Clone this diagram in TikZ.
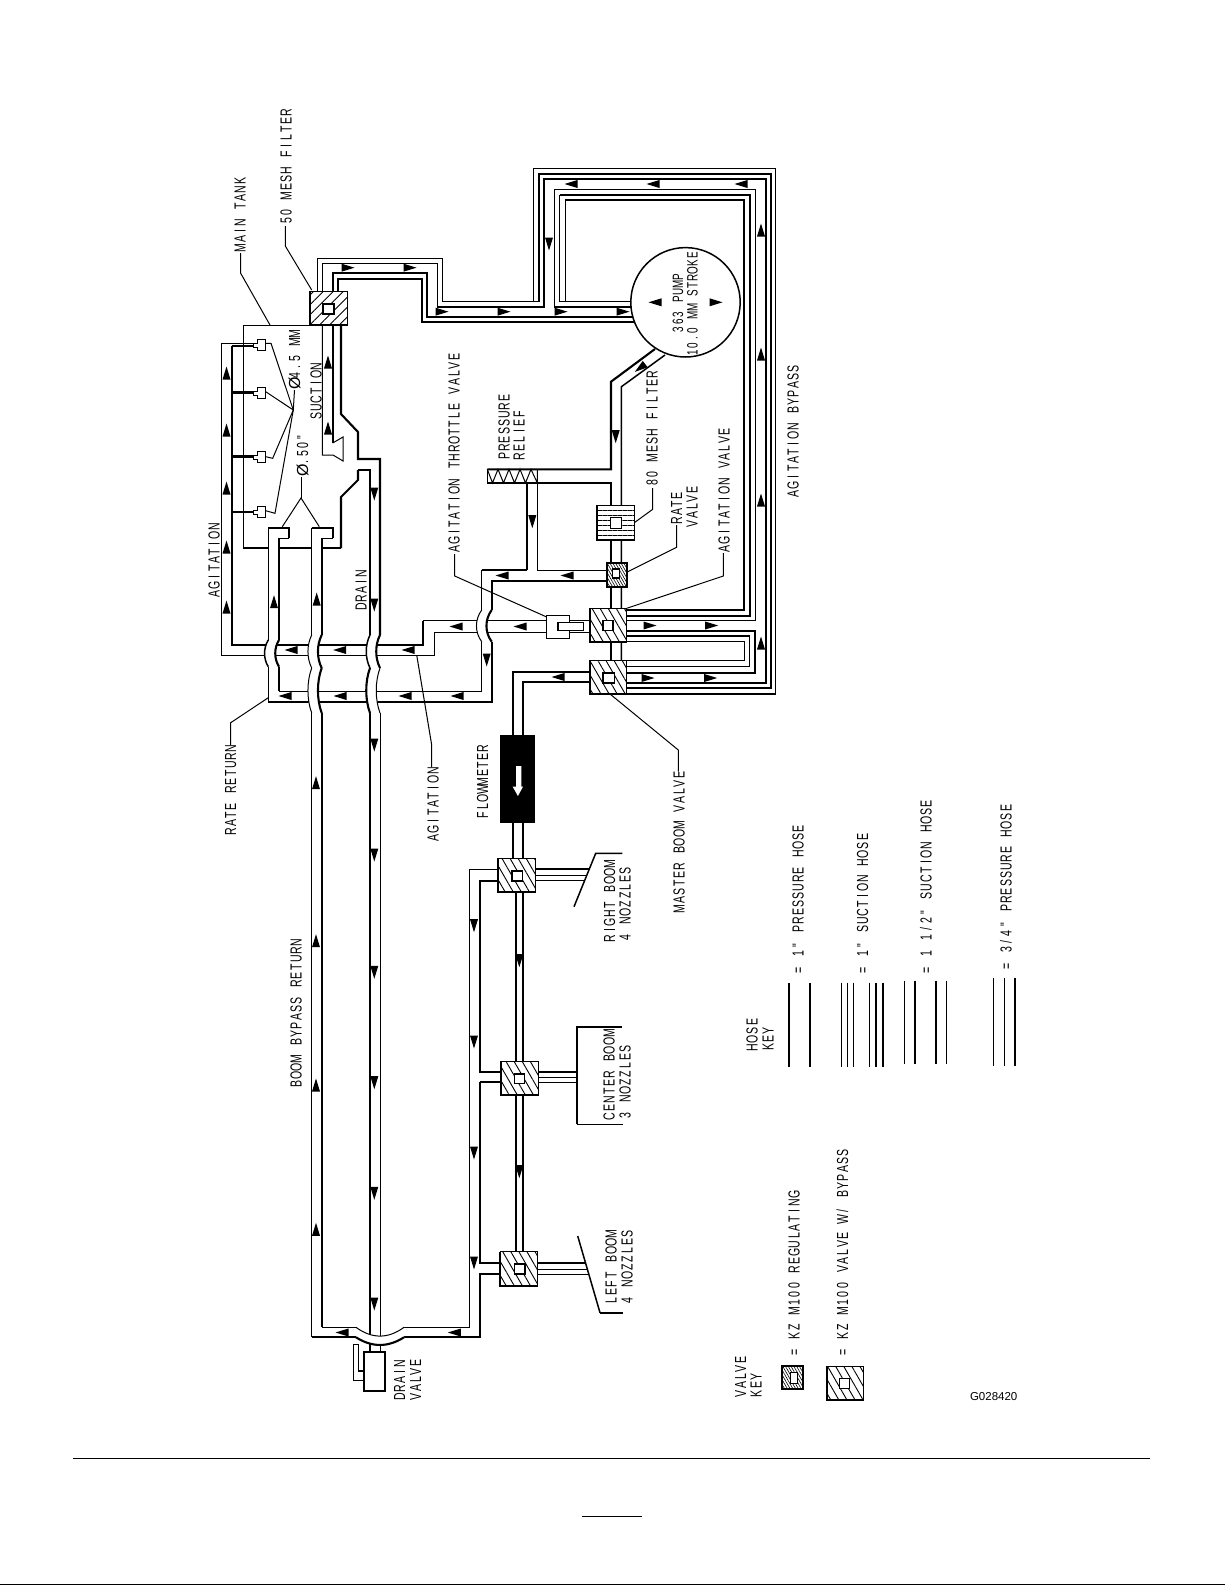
\documentclass[tikz,border=0pt]{standalone}
\usepackage{fontspec}
\usetikzlibrary{patterns.meta}
\setmainfont{Liberation Sans}
\newfontfamily\lblfont[FakeStretch=0.66]{Liberation Sans}
\def\mw{8.33pt}
\def\bigO{\rmfamily Ø}
\def\monoloop#1{\ifx#1\relax\else\makebox[\mw]{#1}\expandafter\monoloop\fi}
\newcommand\mono[1]{\monoloop#1\relax}
\newcommand\flowarr[3]{\fill[shift={(#1,#2)},rotate=#3] (6.5,0)--(-6.5,4)--(-6.5,-4)--cycle;}
\newcommand\vlv[9][hatchA]{%
  \fill[white] (#2,#3) rectangle (#4,#5);
  \path[#1] (#2,#3) rectangle (#4,#5);
  \draw[tn] (#2,#3) rectangle (#4,#5);
  \draw[tk] (#2,#3)--(#2,#5)--(#4,#5);
  \draw[md,fill=white] (#6,#7) rectangle (#8,#9);}
\newcommand\nzl[1]{\draw[tn,fill=white] (253.3,#1-2)--(257.3,#1-2)--(257.3,#1-5.5)--(265.7,#1-5.5)--(265.7,#1+5.5)--(257.3,#1+5.5)--(257.3,#1+2)--(253.3,#1+2)--cycle;}
% vertical hose bending aside where it passes over a horizontal hose
\def\wigoff{5}
\newcommand\wig[6]{%
  \fill[white] (#1,#3) .. controls (#1-\wigoff,#3+0.3*#4-0.3*#3) and (#1-\wigoff,#4-0.3*#4+0.3*#3) .. (#1,#4) -- (#2,#4) .. controls (#2-\wigoff,#4-0.3*#4+0.3*#3) and (#2-\wigoff,#3+0.3*#4-0.3*#3) .. (#2,#3) -- cycle;
  \draw[#5] (#1,#3) .. controls (#1-\wigoff,#3+0.3*#4-0.3*#3) and (#1-\wigoff,#4-0.3*#4+0.3*#3) .. (#1,#4);
  \draw[#6] (#2,#3) .. controls (#2-\wigoff,#3+0.3*#4-0.3*#3) and (#2-\wigoff,#4-0.3*#4+0.3*#3) .. (#2,#4);}
\tikzset{
  tk/.style={line width=2.1pt},
  md/.style={line width=1.5pt},
  tn/.style={line width=1pt},
  hatchA/.style={pattern={Lines[angle=-60,distance=7pt,line width=.9pt]}},
  hatchB/.style={pattern={Lines[angle=45,distance=7pt,line width=.9pt]}},
  hatchC/.style={pattern={Lines[angle=-60,distance=2.4pt,line width=.6pt]}},
  hatchD/.style={pattern={Lines[angle=0,distance=5pt,line width=.9pt]}},
  lbl/.style={rotate=90,anchor=west,inner sep=0pt,text height=11pt,text depth=0pt,
    font=\fontsize{16}{17}\lblfont},
  lbls/.style={rotate=90,anchor=center,inner sep=0pt,text height=10pt,text depth=0pt,
    font=\fontsize{15}{16}\lblfont},
}
\begin{document}
\begin{tikzpicture}[x=1pt,y=-1pt,line join=miter]
\useasboundingbox (0,0) rectangle (1225,1585);
% ---- page rules
\draw[md] (73,1458.3)--(1150,1458.3);
\draw[md] (582,1516.3)--(642,1516.3);
\draw[line width=1.5pt] (0,1584.3)--(1225,1584.3);
% ---- suction from filter to pump, and pump loops
\draw[tn] (317.3,291)--(317.3,258.3)--(442.3,258.3)--(442.3,301.7)--(539,301.7);
\draw[tn] (322.3,291)--(322.3,263.3)--(437,263.3)--(437,306.7);
\draw[tk] (437,306.7)--(544,306.7)--(544,179)--(765.7,179)--(765.7,683.3)--(626,683.3);
\draw[tk] (539,301.7)--(539,173.7)--(770.7,173.7)--(770.7,688.3)--(626,688.3);
\draw[tn] (533,301.7)--(533,168.3)--(775.7,168.3)--(775.7,694);
\draw[tk] (775.7,694)--(626,694);
\draw[tk] (332.7,291)--(332.7,273.3)--(426.7,273.3)--(426.7,316.7)--(636,316.7);
\draw[tk] (338.3,291)--(338.3,278.7)--(421.7,278.7)--(421.7,322)--(638,322);
\draw[tn] (554.3,306.7)--(554.3,189.3)--(755,189.3)--(755,620.7)--(626,620.7);
\draw[tk] (554.3,306.7)--(634,306.7);
\draw[md] (634,301.7)--(559.7,301.7)--(559.7,194.7);
\draw[tk] (559.7,194.7)--(749.7,194.7)--(749.7,615.7)--(626,615.7);
\draw[tn] (565,301.7)--(565,200);
\draw[tk] (565,200)--(744.3,200)--(744.3,610)--(626,610);
% loop between agitation valve and master boom valve
\draw[tk] (626,631)--(755,631)--(755,672.7)--(626,672.7);
\draw[md] (626,636)--(749.7,636)--(749.7,666.7)--(626,666.7);
\draw[tn] (626,641.7)--(744.3,641.7)--(744.3,660.7)--(626,660.7);
% ---- pressure side from pump
\draw[tk] (487.3,469.3)--(611,469.3)--(611,381.7)--(655,349);
\draw[md] (621.4,662)--(621.4,386.7)--(665,355);
\draw[tk] (487.3,482.9)--(611,482.9)--(611,662);
\draw[tn] (487.3,469.3)--(487.3,482.9);
\draw[tn] (487.3,469.3)--(492.5,482.9)--(498,469.3)--(503.5,482.9)--(509,469.3)--(514.5,482.9)--(520,469.3)--(525.5,482.9)--(531,469.3)--(537.3,482.9)--(537.3,469.3);
\draw[tn] (537.3,482.9)--(537.3,570)--(606,570);
% ---- agitation line
\draw[tk] (243,548)--(268.3,548) (279,548)--(311.7,548) (321.7,548)--(341,548);
\draw[tn] (310,325)--(243,325)--(243,548);
\draw[tk] (231.7,346)--(231.7,645)--(423,645)--(423,620.7);
\draw[md] (423,620.7)--(590,620.7);
\draw[tn] (253,343.3)--(221.3,343.3)--(221.3,655)--(434.3,655)--(434.3,632.3)--(590,632.3);
\draw[tk] (231.7,346)--(253,346) (231.7,392.5)--(253,392.5) (231.7,456.5)--(253,456.5) (231.7,511.7)--(253,511.7);
% ---- rate return
\draw[tk] (606,581)--(491.7,581)--(491.7,610);
\draw[tk] (491.7,641.7)--(491.7,701.7)--(268.3,701.7);
\draw[md] (268.3,701.7)--(268.3,666.7);
\draw[md] (268.3,640)--(268.3,527.7);
\draw[tk] (268.3,527.7)--(289.3,527.7)--(289.3,538.3);
\draw[md] (289.3,538.3)--(279,538.3);
\draw[tk] (279,538.3)--(279,640);
\draw[tk] (279,666.7)--(279,691);
\draw[tn] (279,691)--(481.7,691)--(481.7,641.7);
\draw[tn] (481.7,610)--(481.7,570);
\draw[md] (481.7,570)--(527.2,570);
\draw[tk] (527.2,570)--(527.2,483);
% ---- boom bypass return
\draw[tn] (311.7,527.7)--(311.7,635) (311.7,713)--(311.7,1337.3);
\draw[tk] (311.7,527.7)--(332.7,527.7)--(332.7,538.3);
\draw[md] (332.7,538.3)--(321.7,538.3);
\draw[tk] (321.7,538.3)--(321.7,635) (322,713)--(322,1327.3);
\draw[tn] (322,1327.3)--(356,1327.3);
\draw[tn] (404,1327.3)--(469.3,1327.3)--(469.3,869.3)--(498,869.3);
\draw[tk] (311.7,1337.3)--(356,1337.3);
\draw[tk] (404,1337.3)--(480,1337.3)--(480,1274)--(500,1274);
\draw[tk] (500,1263.3)--(480,1263.3)--(480,1082.3);
\draw[tk] (480,1082.3)--(501,1082.3);
\draw[tk] (501,1071.7)--(480,1071.7)--(480,880.7)--(498,880.7);
% ---- drain
\draw[tk] (341,325)--(341,414)--(358,432)--(358,459)--(380,459)--(380,635);
\draw[tk] (341,548)--(341,497)--(358,480)--(358,470);
\draw[md] (358,470)--(370,470)--(370,635);
\draw[tk] (370,713)--(370,1352);
\draw[tn] (380.7,713)--(380.7,1352);
% ---- bridges over the horizontal hoses
\begingroup\def\wigoff{7}\wig{481.7}{491.7}{610}{641.7}{tn}{tk}\endgroup
\wig{268.3}{279}{640}{666.7}{md}{tk}
\wig{311.7}{321.7}{635}{668}{tn}{tk}
\wig{370}{380}{635}{668}{md}{tk}
\wig{311.7}{321.7}{668}{713}{tn}{tk}
\wig{370}{380}{668}{713}{tk}{tn}
% ---- bridge at drain valve
\fill[white] (356,1327.3) .. controls (372,1339) and (388,1339) .. (404,1327.3) -- (404,1337.3) .. controls (388,1347.5) and (372,1347.5) .. (356,1337.3) -- cycle;
\draw[tn] (356,1327.3) .. controls (372,1339) and (388,1339) .. (404,1327.3);
\draw[tk] (356,1337.3) .. controls (372,1347.5) and (388,1347.5) .. (404,1337.3);
% ---- drain valve
\draw[md] (358.3,1344)--(358.3,1371)--(364,1371);
\draw[tn] (358.3,1344)--(353.3,1344)--(353.3,1380)--(364,1380);
\draw[tk,fill=white] (364,1351.7) rectangle (385.3,1391);
% ---- suction to tank
\draw[tn] (322.3,325)--(322.3,455)--(333,455)--(343,461)--(343,437)--(332.7,443);
\draw[tk] (332.7,443)--(332.7,325);
% ---- pump
\draw[md,fill=white] (685.5,302.3) circle (54.7);
\flowarr{655}{302.3}{180}
\flowarr{716}{302.3}{0}
% ---- flowmeter and boom feed
\draw[tk] (512.7,858)--(512.7,671.7)--(590,671.7);
\draw[tk] (522.7,858)--(522.7,681.7)--(590,681.7);
\draw[tk] (515.7,892)--(515.7,1252) (522.9,892)--(522.9,1252);
\fill (500,735) rectangle (535,822.7);
\fill[white] (516,766)--(521.3,766)--(521.3,786.7)--(523,786.7)--(517.9,796)--(512.7,786.7)--(516,786.7)--cycle;
% ---- boom outlets
\draw[tk] (535,869.3)--(589,869.3);
\draw[tn] (535,875)--(586.9,875) (535,880.5)--(584.6,880.5);
\draw[tk] (537,1071.7)--(576.7,1071.7);
\draw[tn] (537,1077.3)--(576.7,1077.3) (537,1082.3)--(576.7,1082.3);
\draw[tk] (537,1263.3)--(585.6,1263.3);
\draw[tn] (537,1269)--(587.3,1269) (537,1274)--(588.8,1274);
\draw[md] (622.3,853.3)--(595.7,853.3)--(574,906.7);
\draw[tk] (621.7,1026.7)--(576.7,1026.7)--(576.7,1124.3);
\draw[md] (576.7,1124.3)--(623.3,1124.3);
\draw[md] (577.7,1236)--(600,1312.7);
\draw[tk] (600,1312.7)--(622.7,1312.7);
% ---- valves
\vlv[hatchB]{310}{291}{347}{325}{323}{304}{334}{314}
\vlv[hatchD]{597}{505}{634}{540}{610.7}{517.7}{621.7}{528.3}
\vlv[hatchC]{606.7}{562.7}{626.7}{586.7}{612.7}{569}{619.3}{578}
\draw[tk] (606.7,562.7) rectangle (626.7,586.7);
\vlv{590}{608.3}{626.7}{641.7}{603}{620.7}{613}{630.7}
\vlv{590}{660}{626.7}{694}{603}{673}{614.7}{683}
\vlv{498.3}{858.3}{535.7}{892.3}{512}{871}{522.7}{881}
\vlv{500.7}{1061.7}{538}{1095}{514.3}{1074}{524.3}{1083.3}
\vlv{500}{1251.7}{537.3}{1286}{514.3}{1264}{525}{1274}
% throttle valve
\draw[md,fill=white] (546.7,615.7) rectangle (569.3,638.3);
\draw[md,fill=white] (558,622.7) rectangle (583.3,630.7);
% nozzles
\nzl{345}\nzl{393.3}\nzl{457}\nzl{512}
% ---- flow arrows
\foreach \ax/\ay in {348/267.7,410/267.7,442/311.7,504/311.7,561/311.7,623/311.7}{\flowarr{\ax}{\ay}{0}}
\foreach \ax/\ay in {650/625.5,711.7/625.5,648/678,710.7/678}{\flowarr{\ax}{\ay}{0}}
\foreach \ax/\ay in {571/184,653/184,741/184,558/677,502/575.5,567/575.5,456/626.5,520/626.5,291/650,339.6/650,408/650,285/696,340/696,405/696,457/696,342/1332.5,454.3/1332.5}{\flowarr{\ax}{\ay}{180}}
\foreach \ax/\ay in {761/230,761/354,761/500,761/643,226.5/373,226.5/430,226.5/488,226.5/547,226.5/607,328/362,328/428,274/601.7,316.7/599,316/782.7,316/940.7,316/1085,316/1229.3}{\flowarr{\ax}{\ay}{90}}
\foreach \ax/\ay in {549/244,615.7/436.7,532.3/521.7,486.7/660,374.3/494,374.3/605,374.3/745,374.3/855,374.3/972.3,374.3/1082.7,374.3/1193.3,374.3/1304,474/925.7,474/1042,474/1153,474/1263,519.3/960.7,519.3/1171.7}{\flowarr{\ax}{\ay}{-90}}
\flowarr{640}{368}{217}
% ---- leaders
\draw[tn] (240.7,253)--(240.7,273.3)--(270,325);
\draw[tn] (285.3,226)--(285.3,246)--(311.7,290);
\draw[tn] (294.5,390)--(293.3,410);
\draw[tn] (265.7,343.3)--(271,343.3)--(293.3,410);
\draw[tn] (265.7,391.7)--(293.3,410);
\draw[tn] (265.7,456.7)--(272.7,458.3)--(293.3,410);
\draw[tn] (265.7,510.7)--(275,513.3)--(293.3,410);
\draw[tn] (282.3,526.7)--(301,498)--(319.3,526.7);
\draw[tn] (301,498)--(301,477);
\draw[tn] (268.3,697.7)--(230.7,722.7)--(230.7,745);
\draw[tn] (416.7,655)--(431.7,745)--(431.7,767);
\draw[tn] (454.7,554)--(454.7,576)--(546.7,617);
\draw[tn] (652.7,488)--(652.7,509.3)--(634.3,522.7);
\draw[tn] (676.7,525)--(676.7,547.3)--(626.7,572.3);
\draw[tn] (723.3,553)--(723.3,576)--(626.7,608.3);
\draw[tn] (610,694)--(678.3,750)--(678.3,771.7);
% ---- labels
\node[lbl] (l50) at (286,225) {\mono{50~MESH~FILTER}};
\node[lbl] (lmt) at (240,252) {\mono{MAIN~TANK}};
\node[lbl] (ld45) at (294.7,388) {\mono{\bigO4.5~MM}};
\node[lbl] (lsuc) at (316,420.7) {\mono{SUCTION}};
\node[lbl] (ld50) at (302.5,475) {\mono{\bigO.50"}};
\node[lbl] (lag1) at (214,598) {\mono{AGITATION}};
\node[lbl] (ldr) at (361,611) {\mono{DRAIN}};
\node[lbl] (lrr) at (230.5,836) {\mono{RATE~RETURN}};
\node[lbl] (lag2) at (433,842) {\mono{AGITATION}};
\node[lbl] (latv) at (454,553.3) {\mono{AGITATION~THROTTLE~VALVE}};
\node[lbl] (lpr1) at (504,460.7) {\mono{PRESSURE}};
\node[lbl] (lpr2) at (519,460.7) {\mono{RELIEF}};
\node[lbl] (l80) at (652,487) {\mono{80~MESH~FILTER}};
\node[lbl] (lrv1) at (676.7,525) {\mono{RATE}};
\node[lbl] (lrv2) at (692,528) {\mono{VALVE}};
\node[lbl] (lav) at (724,553) {\mono{AGITATION~VALVE}};
\node[lbl] (lab) at (793,498) {\mono{AGITATION~BYPASS}};
\node[lbl] (lfm) at (482.5,819.3) {\mono{FLOWMETER}};
\node[lbl] (lmb) at (679,913) {\mono{MASTER~BOOM~VALVE}};
\node[lbl] (lbbr) at (296,1088.3) {\mono{BOOM~BYPASS~RETURN}};
\node[lbl] (lrb1) at (609.5,943) {\mono{RIGHT~BOOM}};
\node[lbl] (lrb2) at (625,941.7) {\mono{4~NOZZLES}};
\node[lbl] (lcb1) at (609,1121) {\mono{CENTER~BOOM}};
\node[lbl] (lcb2) at (625,1120) {\mono{3~NOZZLES}};
\node[lbl] (llb1) at (611,1305) {\mono{LEFT~BOOM}};
\node[lbl] (llb2) at (627,1305) {\mono{4~NOZZLES}};
\node[lbl] (ldv1) at (399.5,1401) {\mono{DRAIN}};
\node[lbl] (ldv2) at (415.5,1401) {\mono{VALVE}};
\node[lbls] (lp1) at (678,303) {\def\mw{7.5pt}\mono{363~PUMP}};
\node[lbls] (lp2) at (692.7,304) {\def\mw{7.5pt}\mono{10.0~MM~STROKE}};
% ---- hose key
\node[lbl] (lhk1) at (752,1051.7) {\mono{HOSE}};
\node[lbl] (lhk2) at (768,1051.7) {\mono{KEY}};
\node[lbl] (lh1) at (798,975) {\mono{=~1"~PRESSURE~HOSE}};
\node[lbl] (lh2) at (862.5,975) {\mono{=~1"~SUCTION~HOSE}};
\node[lbl] (lh3) at (926,975) {\mono{=~1~1/2"~SUCTION~HOSE}};
\node[lbl] (lh4) at (1006,971) {\mono{=~3/4"~PRESSURE~HOSE}};
\draw[md] (789,983.3)--(789,1066.7) (810,983.3)--(810,1066.7);
\draw[tn] (841.3,982.7)--(841.3,1066.7) (847.3,982.7)--(847.3,1066.7) (853.3,982.7)--(853.3,1066.7) (869.3,982.7)--(869.3,1066.7);
\draw[tk] (875.7,982.7)--(875.7,1066.7) (882.7,982.7)--(882.7,1066.7);
\draw[md] (904.3,980.7)--(904.3,1064) (915,980.7)--(915,1064) (936,980.7)--(936,1064) (946.7,980.7)--(946.7,1064);
\draw[md] (993.7,977.7)--(993.7,1066) (1004.3,977.7)--(1004.3,1066) (1015,977.7)--(1015,1066);
% ---- valve key
\node[lbl] (lvk1) at (740.5,1398) {\mono{VALVE}};
\node[lbl] (lvk2) at (756,1398) {\mono{KEY}};
\vlv[hatchC]{782.3}{1365.7}{802.7}{1389.3}{790.7}{1372.7}{797.3}{1383.3}
\draw[tk] (782.3,1365.7) rectangle (802.7,1389.3);
\vlv{826.7}{1366}{863.3}{1400}{839.3}{1378.3}{849.3}{1388.3}
\node[lbl] (lv1) at (794,1357) {\mono{=~KZ~M100~REGULATING}};
\node[lbl] (lv2) at (842.5,1357) {\mono{=~KZ~M100~VALVE~W/~BYPASS}};
\node[anchor=center,inner sep=0pt,font=\fontsize{11.5}{13}\selectfont] (lg) at (993.7,1396.7) {G028420};
\end{tikzpicture}
\end{document}
